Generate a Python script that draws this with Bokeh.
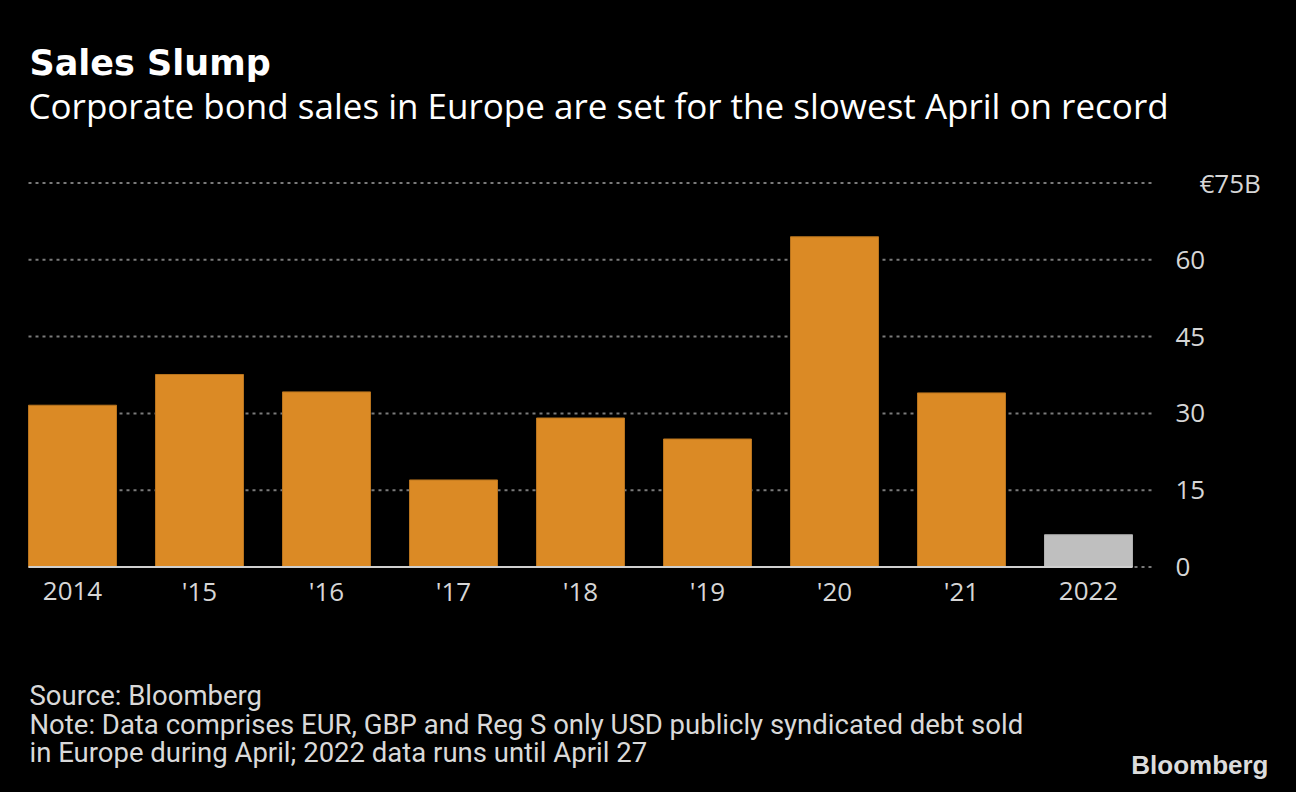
from bokeh.plotting import figure
from bokeh.models import Range1d, Label, ColumnDataSource
from bokeh.core.properties import value
from bokeh.embed import file_html
from bokeh.resources import INLINE

# ---- data ----
years = ["2014", "'15", "'16", "'17", "'18", "'19", "'20", "'21", "2022"]
values = [31.6, 37.6, 34.2, 17.0, 29.1, 25.0, 64.5, 34.0, 6.3]
bar_colors = ["#DB8A25"] * 8 + ["#BFBFBF"]
edge_colors = ["#B9741E"] * 8 + ["#AFAFAF"]
y_ticks = [0, 15, 30, 45, 60]
top_tick = 75
top_label = "€75B"

title = "Sales Slump"
subtitle = "Corporate bond sales in Europe are set for the slowest April on record"
source_line = "Source: Bloomberg"
note_lines = ["Note: Data comprises EUR, GBP and Reg S only USD publicly syndicated debt sold",
              "in Europe during April; 2022 data runs until April 27"]
brand = "Bloomberg"

# ---- layout (pixels) ----
W, H = 1296, 792
X_STEP_PX = 127.0      # pixels per category
Y_UNIT_PX = 5.12       # pixels per EUR bn
LEFT_PX = 28.0         # left edge of first bar
ZERO_PX = 566.5        # y pixel of value 0
PLOT_W_PX = 1127.0     # width of gridlines

xs = list(range(len(years)))
bar_w = 0.693
x_left = xs[0] - bar_w / 2
x_start = x_left - LEFT_PX / X_STEP_PX
x_end = x_start + W / X_STEP_PX
y_end = ZERO_PX / Y_UNIT_PX
y_start = y_end - H / Y_UNIT_PX
grid_right = x_left + PLOT_W_PX / X_STEP_PX

p = figure(width=W, height=H, output_backend="svg", toolbar_location=None,
           x_range=Range1d(x_start, x_end), y_range=Range1d(y_start, y_end),
           min_border=0, background_fill_color="black", border_fill_color="black",
           outline_line_color=None, x_axis_location=None, y_axis_location=None)
p.grid.visible = False

# gridlines
grid_vals = y_ticks + [top_tick]
p.segment(x0=[x_left] * len(grid_vals), x1=[grid_right] * len(grid_vals),
          y0=grid_vals, y1=grid_vals, line_color="#7a7a7a", line_width=2, line_dash="3 4")

# bars
src = ColumnDataSource(dict(x=xs, top=values, color=bar_colors, edge=edge_colors))
p.vbar(x="x", top="top", bottom=0, width=bar_w, fill_color="color", line_color="edge",
       line_width=1, source=src)

# baseline
p.segment(x0=[xs[0] - bar_w / 2], x1=[xs[-1] + bar_w / 2], y0=[0], y1=[0],
          line_color="#cfcfcf", line_width=2)

tick_color = "#d6d6d6"
# y tick labels
p.text(x=[grid_right] * len(y_ticks), y=y_ticks, text=[str(t) for t in y_ticks],
       x_offset=20, text_font=value("Open Sans"), text_font_size="26px",
       text_color=tick_color, text_align="left", text_baseline="middle")
p.text(x=[grid_right], y=[top_tick], text=[top_label],
       x_offset=44, text_font=value("Open Sans"), text_font_size="26px",
       text_color=tick_color, text_align="left", text_baseline="middle")
# x tick labels
p.text(x=xs, y=[0] * len(xs), text=years, y_offset=24,
       text_font=value("Open Sans"), text_font_size="26px",
       text_color=tick_color, text_align="center", text_baseline="middle")

def lab(text, x, y_center, size, font, style="normal", color="white", align="left"):
    p.add_layout(Label(text=text, x=x, y=H - y_center, x_units="screen", y_units="screen",
                       text_font=font, text_font_size=size, text_font_style=style,
                       text_color=color, text_align=align, text_baseline="middle"))

lab(title, 29, 62, "35px", "DejaVu Sans", "bold")
lab(subtitle, 28, 105, "35px", "Open Sans")
lab(source_line, 29, 694.5, "27.5px", "Roboto", color="#d9d9d9")
lab(note_lines[0], 29, 723.5, "27.5px", "Roboto", color="#d9d9d9")
lab(note_lines[1], 29, 751.5, "27.5px", "Roboto", color="#d9d9d9")
lab(brand, 1268, 764.5, "26px", "Liberation Sans", "bold", color="#dcdcdc", align="right")

html = file_html(p, INLINE)
html = html.replace("<head>", "<head><style>html,body{background:#000;}</style>", 1)
open("out.html", "w").write(html)
